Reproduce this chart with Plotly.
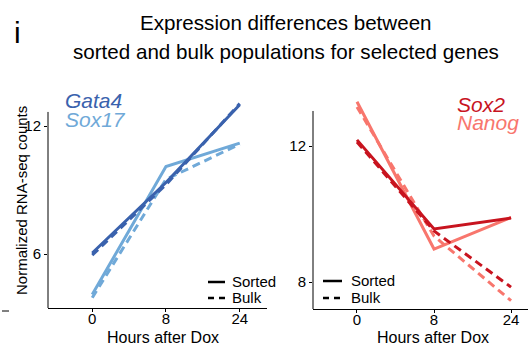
import plotly.graph_objects as go

W, H = 528, 349

hours = ["0", "8", "24"]
gata4_sorted = [6.05, 9.35, 13.0]
gata4_bulk = [5.95, 9.25, 13.05]
sox17_sorted = [4.1, 10.1, 11.2]
sox17_bulk = [3.95, 9.5, 11.15]
sox2_sorted = [12.18, 9.56, 9.88]
sox2_bulk = [12.12, 9.5, 7.85]
nanog_sorted = [13.3, 8.97, 9.9]
nanog_bulk = [13.15, 9.35, 7.45]

C_GATA4 = "#3a62ad"
C_SOX17 = "#70a9d8"
C_SOX2 = "#c8141f"
C_NANOG = "#f8766d"

FONT = "Liberation Sans, Arial, Helvetica, sans-serif"
DASH = "8px,5px"
LW = 3


def px(x):
    return x / W


def py(y):
    return 1 - y / H


fig = go.Figure()

def add(x, y, color, dash, xa, ya):
    fig.add_trace(go.Scatter(x=x, y=y, mode="lines", xaxis=xa, yaxis=ya,
                             line=dict(color=color, width=LW, dash=dash),
                             showlegend=False, hoverinfo="skip"))

add(hours, sox17_bulk, C_SOX17, DASH, "x", "y")
add(hours, sox17_sorted, C_SOX17, "solid", "x", "y")
add(hours, gata4_bulk, C_GATA4, DASH, "x", "y")
add(hours, gata4_sorted, C_GATA4, "solid", "x", "y")
add(hours, nanog_bulk, C_NANOG, DASH, "x2", "y2")
add(hours, nanog_sorted, C_NANOG, "solid", "x2", "y2")
add(hours, sox2_bulk, C_SOX2, DASH, "x2", "y2")
add(hours, sox2_sorted, C_SOX2, "solid", "x2", "y2")

xcommon = dict(type="category", categoryorder="array", categoryarray=hours,
               showline=True, linecolor="black", linewidth=1,
               ticks="outside", ticklen=3, tickcolor="black",
               ticklabelstandoff=-6,
               tickfont=dict(family=FONT, size=15, color="black"),
               showgrid=False, zeroline=False, fixedrange=True)
ycommon = dict(showline=False, ticks="outside", ticklen=3, tickcolor="black",
               tickfont=dict(family=FONT, size=15, color="black"),
               showgrid=False, zeroline=False, fixedrange=True)

fig.update_layout(
    width=W, height=H, margin=dict(l=0, r=0, t=0, b=0),
    paper_bgcolor="white", plot_bgcolor="white",
    xaxis=dict(xcommon, domain=[px(48), px(267)], range=[-0.6, 2.37], anchor="y"),
    yaxis=dict(ycommon, domain=[py(308), py(98.3)], range=[3.47, 13.3],
               tickvals=[6, 12], anchor="x"),
    xaxis2=dict(xcommon, domain=[px(313), 1.0], range=[-0.571, 2.22], anchor="y2"),
    yaxis2=dict(ycommon, domain=[py(309), py(96.7)], range=[7.206, 13.45],
                tickvals=[8, 12], anchor="x2"),
)

# y axis lines (shorter than the panels)
fig.add_shape(type="line", xref="x domain", yref="y", x0=0, x1=0, y0=3.47, y1=12.66,
              line=dict(color="black", width=1))
fig.add_shape(type="line", xref="x2 domain", yref="y2", x0=0, x1=0, y0=7.206, y1=13.03,
              line=dict(color="black", width=1))

ann = []

def text(x, y, s, size, color="black", xanchor="center", italic=False, angle=0):
    ann.append(dict(x=px(x), y=py(y), xref="paper", yref="paper", text=s,
                    showarrow=False, xanchor=xanchor, yanchor="middle", textangle=angle,
                    font=dict(family=FONT, size=size, color=color,
                              style="italic" if italic else "normal")))

text(17, 32, "i", 30, xanchor="center")
text(286, 23, "Expression differences between", 20.6)
text(286, 51, "sorted and bulk populations for selected genes", 20.6)
text(21, 201, "Normalized RNA-seq counts", 15)
ann[-1]["textangle"] = -90
text(163, 337, "Hours after Dox", 16)
text(433, 337, "Hours after Dox", 16)

text(63, 101, "Gata4", 21, C_GATA4, xanchor="left", italic=True)
text(63, 120, "Sox17", 21, C_SOX17, xanchor="left", italic=True)
text(455, 104, "Sox2", 21, C_SOX2, xanchor="left", italic=True)
text(455, 123, "Nanog", 21, C_NANOG, xanchor="left", italic=True)

text(230, 281, "Sorted", 15, xanchor="left")
text(230, 297, "Bulk", 15, xanchor="left")
text(349, 280, "Sorted", 15, xanchor="left")
text(349, 297, "Bulk", 15, xanchor="left")

fig.update_layout(annotations=ann)

# legend glyphs
for (x0, x1, ys, yb) in [(208, 225, 282, 298), (323, 342, 281, 298)]:
    fig.add_shape(type="line", xref="paper", yref="paper", x0=px(x0), x1=px(x1),
                  y0=py(ys), y1=py(ys), line=dict(color="black", width=2.5))
    fig.add_shape(type="line", xref="paper", yref="paper", x0=px(x0), x1=px(x1),
                  y0=py(yb), y1=py(yb), line=dict(color="black", width=2.5, dash="6px,5px"))

# stray dash at far left
fig.add_shape(type="line", xref="paper", yref="paper", x0=px(2), x1=px(9),
              y0=py(311), y1=py(311), line=dict(color="black", width=1))

fig.write_html("out.html")
